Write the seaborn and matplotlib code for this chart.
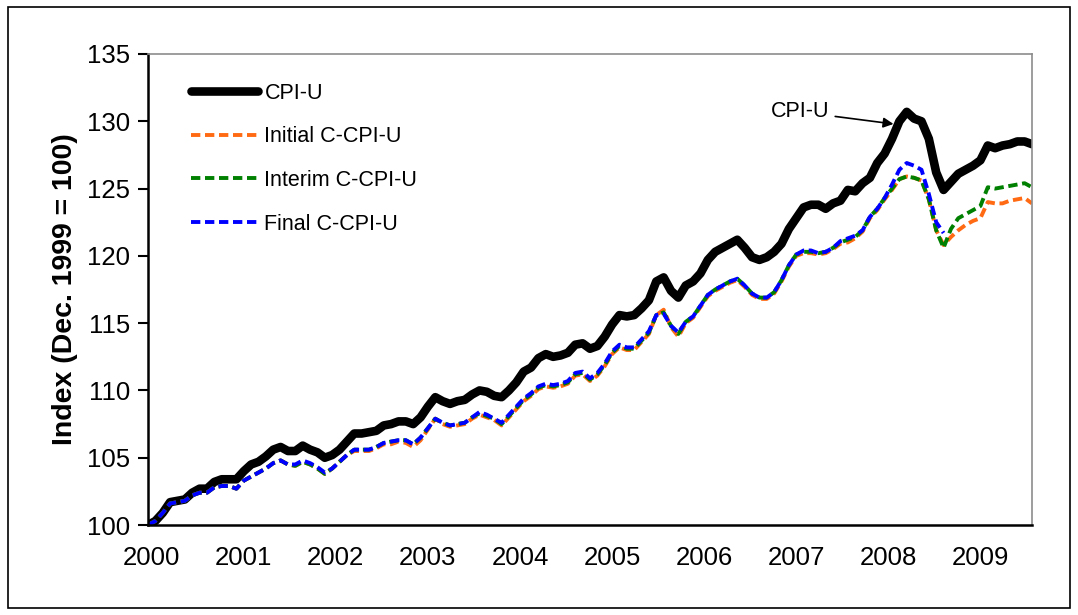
import numpy as np
import pandas as pd
import matplotlib
matplotlib.use('Agg')
import matplotlib.pyplot as plt
from matplotlib.patches import Rectangle
import seaborn as sns

# monthly index values, Dec 1999 = 100 (first point), through Dec 2009
cpi_u = [100.0,
         100.3, 100.9, 101.7, 101.8, 101.9, 102.4, 102.7, 102.7, 103.2, 103.4, 103.4, 103.4,
         104.0, 104.5, 104.7, 105.1, 105.6, 105.8, 105.5, 105.5, 105.9, 105.6, 105.4, 105.0,
         105.2, 105.6, 106.2, 106.8, 106.8, 106.9, 107.0, 107.4, 107.5, 107.7, 107.7, 107.5,
         108.0, 108.8, 109.5, 109.2, 109.0, 109.2, 109.3, 109.7, 110.0, 109.9, 109.6, 109.5,
         110.0, 110.6, 111.4, 111.7, 112.4, 112.7, 112.5, 112.6, 112.8, 113.4, 113.5, 113.1,
         113.3, 114.0, 114.9, 115.6, 115.5, 115.6, 116.1, 116.7, 118.1, 118.4, 117.4, 116.9,
         117.8, 118.1, 118.7, 119.7, 120.3, 120.6, 120.9, 121.2, 120.6, 119.9, 119.7, 119.9,
         120.3, 120.9, 122.0, 122.8, 123.6, 123.8, 123.8, 123.5, 123.9, 124.1, 124.9, 124.8,
         125.4, 125.8, 126.9, 127.6, 128.7, 130.0, 130.7, 130.2, 130.0, 128.7, 126.2, 124.9,
         125.5, 126.1, 126.4, 126.7, 127.1, 128.2, 128.0, 128.2, 128.3, 128.5, 128.5, 128.3]

initial_ccpi = [100.0,
         100.3, 100.9, 101.6, 101.7, 101.8, 102.2, 102.4, 102.4, 102.8, 102.9, 102.9, 102.7,
         103.3, 103.6, 103.9, 104.2, 104.6, 104.8, 104.5, 104.4, 104.7, 104.5, 104.2, 103.8,
         104.2, 104.7, 105.2, 105.5, 105.5, 105.5, 105.7, 106.0, 106.0, 106.2, 106.1, 105.8,
         106.3, 107.1, 107.9, 107.5, 107.3, 107.4, 107.5, 107.9, 108.2, 108.0, 107.8, 107.4,
         108.0, 108.6, 109.2, 109.6, 110.1, 110.3, 110.2, 110.3, 110.5, 111.1, 111.2, 110.7,
         111.1, 111.8, 112.7, 113.2, 113.0, 113.0, 113.6, 114.2, 115.6, 116.0, 114.7, 114.0,
         115.0, 115.4, 116.2, 117.0, 117.4, 117.7, 118.0, 118.2, 117.7, 117.1, 116.8, 116.8,
         117.2, 118.1, 119.2, 120.0, 120.2, 120.2, 120.1, 120.2, 120.5, 120.9, 121.0, 121.3,
         121.8, 122.8, 123.4, 124.2, 124.9, 125.7, 125.9, 125.8, 125.6, 124.2, 121.9, 120.8,
         121.4, 121.9, 122.3, 122.6, 122.8, 124.0, 123.9, 123.9, 124.1, 124.2, 124.3, 123.9]

interim_ccpi = [100.0,
         100.3, 100.9, 101.6, 101.7, 101.8, 102.2, 102.4, 102.4, 102.8, 102.9, 102.9, 102.7,
         103.3, 103.6, 103.9, 104.2, 104.6, 104.8, 104.5, 104.4, 104.7, 104.5, 104.2, 103.8,
         104.2, 104.7, 105.2, 105.6, 105.6, 105.6, 105.8, 106.1, 106.2, 106.3, 106.3, 106.0,
         106.5, 107.2, 107.9, 107.6, 107.4, 107.5, 107.6, 108.0, 108.3, 108.1, 107.9, 107.5,
         108.1, 108.7, 109.3, 109.7, 110.2, 110.4, 110.3, 110.4, 110.6, 111.2, 111.3, 110.8,
         111.2, 111.9, 112.8, 113.3, 113.1, 113.1, 113.7, 114.3, 115.6, 115.8, 114.8, 114.2,
         115.1, 115.5, 116.3, 117.1, 117.5, 117.8, 118.1, 118.3, 117.8, 117.2, 116.9, 116.9,
         117.3, 118.2, 119.3, 120.1, 120.3, 120.3, 120.2, 120.3, 120.6, 121.0, 121.2, 121.4,
         121.9, 122.9, 123.5, 124.3, 125.0, 125.7, 125.9, 125.8, 125.6, 124.2, 121.9, 120.6,
         122.0, 122.8, 123.1, 123.4, 123.7, 125.1, 125.0, 125.1, 125.2, 125.3, 125.4, 125.1]

# final series stops in Dec 2008
final_ccpi = [100.0,
         100.3, 100.9, 101.6, 101.7, 101.8, 102.2, 102.4, 102.4, 102.8, 102.9, 102.9, 102.7,
         103.3, 103.6, 103.9, 104.2, 104.6, 104.8, 104.5, 104.5, 104.8, 104.6, 104.3, 103.9,
         104.2, 104.7, 105.2, 105.6, 105.6, 105.6, 105.8, 106.1, 106.2, 106.3, 106.3, 106.0,
         106.5, 107.2, 107.9, 107.6, 107.4, 107.5, 107.6, 108.0, 108.4, 108.2, 107.9, 107.6,
         108.2, 108.8, 109.4, 109.8, 110.3, 110.5, 110.4, 110.5, 110.7, 111.3, 111.4, 110.9,
         111.3, 112.0, 112.9, 113.4, 113.2, 113.2, 113.8, 114.4, 115.6, 115.7, 114.8, 114.3,
         115.1, 115.5, 116.3, 117.1, 117.5, 117.8, 118.1, 118.3, 117.8, 117.2, 116.9, 116.9,
         117.3, 118.2, 119.3, 120.1, 120.4, 120.4, 120.2, 120.3, 120.6, 121.1, 121.3, 121.5,
         121.9, 122.9, 123.5, 124.3, 125.3, 126.4, 126.9, 126.7, 126.4, 124.6, 122.5, 121.7]

year_labels = ['2000', '2001', '2002', '2003', '2004', '2005', '2006', '2007', '2008', '2009']

months = np.arange(len(cpi_u))
df = pd.DataFrame({'month': months, 'cpi_u': cpi_u,
                   'initial': initial_ccpi, 'interim': interim_ccpi})
df_final = pd.DataFrame({'month': months[:len(final_ccpi)], 'final': final_ccpi})

sns.set_style('white')
plt.rcParams['font.family'] = ['Liberation Sans', 'DejaVu Sans']
plt.rcParams['text.color'] = 'black'
plt.rcParams['axes.labelcolor'] = 'black'
plt.rcParams['xtick.color'] = 'black'
plt.rcParams['ytick.color'] = 'black'

fig = plt.figure(figsize=(10.78, 6.15), dpi=100)
ax = fig.add_axes([0.1373, 0.1463, 0.8200, 0.7659])

dash = (0, (2.4, 1.2))
sns.lineplot(data=df, x='month', y='cpi_u', ax=ax, color='black', lw=6.2, label='CPI-U')
sns.lineplot(data=df, x='month', y='initial', ax=ax, color='#FF6A13', lw=2.8,
             linestyle=dash, label='Initial C-CPI-U')
sns.lineplot(data=df, x='month', y='interim', ax=ax, color='#008000', lw=2.8,
             linestyle=dash, label='Interim C-CPI-U')
sns.lineplot(data=df_final, x='month', y='final', ax=ax, color='#0000FF', lw=2.8,
             linestyle=dash, label='Final C-CPI-U')

ax.set_xlim(0, 120)
ax.set_ylim(100, 135)
ax.set_yticks(range(100, 136, 5))
ax.set_xticks(0.5 + 12.5 * np.arange(len(year_labels)))
ax.set_xticklabels(year_labels)
ax.tick_params(axis='y', which='major', length=7, width=1.5, direction='out',
               left=True, labelsize=18.5, pad=6)
ax.tick_params(axis='x', length=0, labelsize=18.5, pad=15)
ax.set_xlabel('')
ax.set_ylabel('Index (Dec. 1999 = 100)', fontsize=20.5, fontweight='bold', labelpad=6)

for side in ['left', 'bottom']:
    ax.spines[side].set_color('black')
    ax.spines[side].set_linewidth(1.8)
for side in ['top', 'right']:
    ax.spines[side].set_color('#8c8c8c')
    ax.spines[side].set_linewidth(1.2)
    ax.spines[side].set_visible(True)

leg = ax.legend(loc='upper left', bbox_to_anchor=(0.027, 0.98), frameon=False,
                fontsize=15.5, handlelength=3.1, handletextpad=0.3, labelspacing=1.05)

ax.annotate('CPI-U', xy=(101.2, 129.8), xytext=(88.5, 130.7),
            fontsize=15.5, ha='center', va='center',
            arrowprops=dict(arrowstyle='-|>', color='black', lw=1.2,
                            mutation_scale=15, shrinkA=2, shrinkB=0))

fig.add_artist(Rectangle((0.007, 0.011), 0.986, 0.978, transform=fig.transFigure,
                         fill=False, edgecolor='black', lw=1.2))

fig.savefig('out.png', dpi=100, facecolor='white')
